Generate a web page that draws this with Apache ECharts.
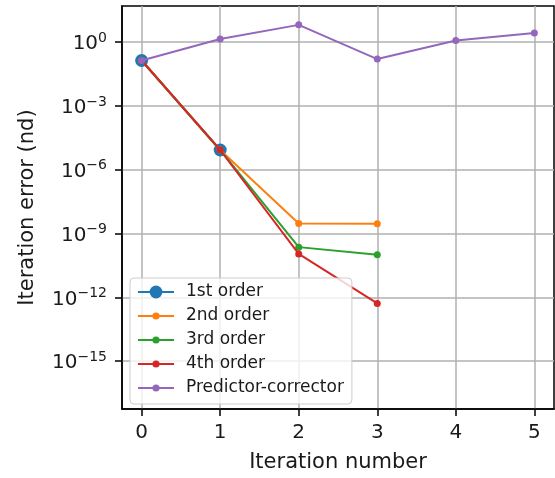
<!DOCTYPE html>
<html><head><meta charset="utf-8">
<script src="https://cdn.jsdelivr.net/npm/echarts@6/dist/echarts.min.js"></script>
<style>html,body{margin:0;padding:0;background:#fff}#c{width:555px;height:478px}</style>
</head><body><div id="c"></div>
<script>
const iterations = [0, 1, 2, 3, 4, 5];
const firstOrder = [0.137, 8.5e-6];
const secondOrder = [0.137, 8.5e-6, 2.95e-9, 2.9e-9];
const thirdOrder = [0.137, 8.5e-6, 2.3e-10, 1.0e-10];
const fourthOrder = [0.137, 8.5e-6, 1.1e-10, 5.2e-13];
const predictorCorrector = [0.137, 1.4, 6.5, 0.16, 1.19, 2.7];
const seriesNames = ['1st order', '2nd order', '3rd order', '4th order', 'Predictor-corrector'];
const yTickValues = [1, 1e-3, 1e-6, 1e-9, 1e-12, 1e-15];
const xTickValues = [0, 1, 2, 3, 4, 5];
const colors = ['#1f77b4', '#ff7f0e', '#2ca02c', '#d62728', '#9467bd'];

const FONT = 'DejaVu Sans';
const allValues = [firstOrder, secondOrder, thirdOrder, fourthOrder, predictorCorrector];

const chart = echarts.init(document.getElementById('c'), null, {renderer: 'canvas'});

function supLabel(v) {
  const e = Math.round(Math.log10(v));
  const s = e < 0 ? '\u2212' + Math.abs(e) : String(e);
  return '{b|10}{s|' + s + '}';
}

const series = allValues.map((vals, k) => ({
  name: seriesNames[k],
  type: 'line',
  data: vals.map((v, i) => [iterations[i], v]),
  symbol: 'circle',
  symbolSize: k === 0 ? 13 : 7,
  showSymbol: true,
  lineStyle: {width: 2, color: colors[k]},
  itemStyle: {color: colors[k]},
  z: 2 + k,
  animation: false
}));

chart.setOption({
  animation: false,
  color: colors,
  textStyle: {fontFamily: FONT},
  grid: {left: 122, right: 1, top: 6, bottom: 68, show: true, borderColor: '#000', borderWidth: 1.5, backgroundColor: 'transparent'},
  xAxis: {
    type: 'value', min: -0.25, max: 5.25,
    name: 'Iteration number', nameLocation: 'middle', nameGap: 43,
    nameTextStyle: {fontSize: 21, color: '#1a1a1a', fontFamily: FONT},
    axisLine: {show: true, onZero: false, lineStyle: {color: '#000', width: 1.5}},
    axisTick: {show: true, length: 7, lineStyle: {color: '#000', width: 1.5}, customValues: xTickValues},
    axisLabel: {fontSize: 20, color: '#1a1a1a', margin: 14, fontFamily: FONT, customValues: xTickValues},
    splitLine: {show: true, lineStyle: {color: '#b0b0b0', width: 1.5}}
  },
  yAxis: {
    type: 'log', logBase: 10, min: Math.pow(10, -17.25), max: Math.pow(10, 1.70),
    name: 'Iteration error (nd)', nameLocation: 'middle', nameGap: 84, nameRotate: 90,
    nameTextStyle: {fontSize: 21, color: '#1a1a1a', fontFamily: FONT},
    axisLine: {show: true, onZero: false, lineStyle: {color: '#000', width: 1.5}},
    axisTick: {show: true, length: 7, lineStyle: {color: '#000', width: 1.5}, customValues: yTickValues},
    axisLabel: {
      margin: 15, color: '#1a1a1a', fontFamily: FONT, customValues: yTickValues,
      formatter: supLabel,
      rich: {
        b: {fontSize: 20, fontFamily: FONT, color: '#1a1a1a', verticalAlign: 'bottom', lineHeight: 24},
        s: {fontSize: 14, fontFamily: FONT, color: '#1a1a1a', verticalAlign: 'bottom', lineHeight: 14, padding: [0, 0, 9, 0]}
      }
    },
    splitLine: {show: true, lineStyle: {color: '#b0b0b0', width: 1.5}}
  },
  legend: [
    {
      data: [seriesNames[0]], orient: 'vertical', left: 137, top: 282,
      itemWidth: 36, itemHeight: 16, itemGap: 4, padding: 0,
      textStyle: {fontSize: 17, color: '#1a1a1a', fontFamily: FONT, lineHeight: 20, padding: [0, 0, 0, 7]},
      z: 20, selectedMode: false
    },
    {
      data: seriesNames.slice(1), orient: 'vertical', left: 130, top: 278,
      itemWidth: 36, itemHeight: 9, itemGap: 4, padding: [28, 8, 6, 7],
      backgroundColor: 'rgba(255,255,255,0.8)', borderColor: '#cccccc', borderWidth: 1, borderRadius: 4,
      textStyle: {fontSize: 17, color: '#1a1a1a', fontFamily: FONT, lineHeight: 20, padding: [0, 0, 0, 7]},
      z: 10, selectedMode: false
    }
  ],
  series: series
});
</script></body></html>
